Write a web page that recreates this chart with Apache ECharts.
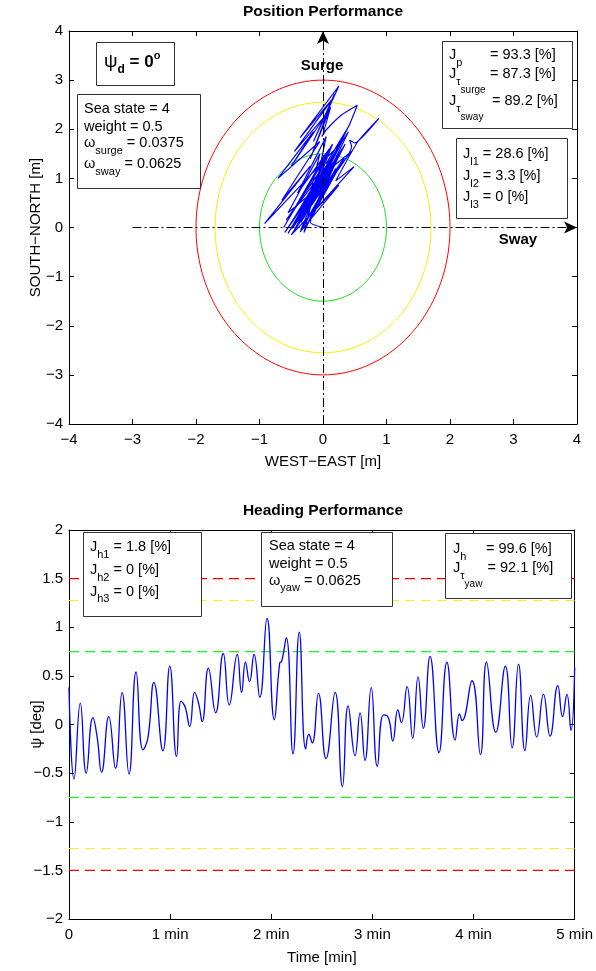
<!DOCTYPE html>
<html>
<head>
<meta charset="utf-8">
<script src="https://cdn.jsdelivr.net/npm/echarts@6/dist/echarts.min.js"></script>
<style>
html,body{margin:0;padding:0;background:#fff}
#chart{width:596px;height:971px}
</style>
</head>
<body>
<div id="chart"></div>
<script>
const FONT = "'Liberation Sans', Arial, Helvetica, sans-serif";

// Vessel position track, metres (east, north)
const trackEast = [0.00, -0.20, 0.20, -0.35, 0.10, -0.55, 0.22, -0.40, 0.05, -0.62, 0.15, -0.30, 0.30, -0.92, -0.20, -0.65, -0.05, -0.71, -0.15, -0.50, 0.05, -0.45, 0.15, -0.36, 0.25, -0.15, 0.18, -0.20, 0.12, 0.00, -0.02, 0.06, 0.30, 0.54, 0.40, 0.05, 0.40, -0.45, 0.30, -0.25, 0.20, -0.60, 0.00, -0.30, 0.45, 0.42, 0.50, 0.88, 0.55, 0.20, 0.49, -0.10, 0.35, -0.50, 0.25, -0.36, 0.15, -0.20, 0.25, -0.45, 0.05, -0.55, -0.05, -0.25, 0.10, -0.40, 0.05, -0.15, 0.20, -0.35, 0.12, -0.48, 0.08, -0.28, 0.18, -0.58, -0.02, -0.42, 0.00, -0.30, 0.28, -0.05, 0.35, -0.38, 0.10, -0.52, -0.08, -0.33, 0.14, 0.05, 0.45, 0.12, 0.40, -0.05, 0.32, 0.08, 0.38, -0.22, 0.05];
const trackNorth = [0.00, 0.10, 1.20, -0.05, 1.35, -0.12, 1.55, 0.15, 1.45, 0.00, 1.70, 0.20, 1.75, 0.08, 1.25, 0.55, 1.75, 1.00, 1.95, 1.25, 2.30, 1.55, 2.62, 1.83, 2.88, 1.75, 2.72, 1.40, 2.45, 1.90, 1.85, 2.00, 2.30, 2.49, 2.05, 1.30, 2.05, -0.05, 1.60, 0.05, 1.40, -0.10, 1.10, 0.30, 1.65, 1.78, 1.72, 2.22, 1.75, 0.95, 1.24, 0.40, 1.45, -0.15, 0.86, -0.09, 1.05, 0.15, 1.25, 0.05, 0.95, 0.30, 1.50, 0.45, 1.60, 0.70, 1.85, 0.60, 1.50, 0.10, 1.15, -0.02, 1.30, 0.35, 1.45, 0.15, 1.20, 0.45, 1.40, -0.10, 1.55, 0.70, 1.70, 0.20, 1.35, 0.05, 1.00, 0.25, 1.20, 0.90, 1.55, 1.20, 1.95, 1.05, 1.80, 1.25, 2.00, 0.40, 0.90];

// Position limit ellipses: semi-axes (east, north) in metres
const limitEast = [1.0, 1.7, 2.0];
const limitNorth = [1.5, 2.55, 3.0];
const limitColors = ['#11e011', '#f2f200', '#ff0000'];

// Heading history: time [s], heading error [deg]
const headingTime = [0, 3.0, 6.7, 10.2, 14.2, 16.7, 19.3, 23.6, 27.6, 31.5, 35.6, 39.8, 43.9, 46.8, 50.4, 55.7, 59.8, 63.8, 66.5, 68.9, 71.6, 74.6, 77.0, 79.0, 82.7, 87.0, 91.5, 95.1, 99.8, 102.4, 104.7, 107.1, 109.8, 113.2, 117.5, 121.8, 125.0, 126.2, 128.9, 132.9, 136.6, 140.4, 142.3, 144.3, 148.0, 152.5, 157.9, 162.2, 165.6, 169.7, 172.7, 175.6, 179.3, 182.9, 186.6, 189.5, 192.1, 195.1, 197.2, 200.6, 203.9, 207.1, 210.2, 214.2, 219.5, 224.2, 229.1, 231.7, 233.2, 239.1, 244.1, 247.7, 253.2, 258.9, 262.9, 266.7, 270.5, 273.9, 277.5, 281.5, 285.4, 290.0, 292.8, 295.4, 297.8, 300];
const headingPsi = [0.38, -0.56, 0.22, -0.50, 0.07, -0.13, -0.49, 0.08, -0.45, 0.33, -0.51, 0.54, -0.26, -0.14, 0.43, -0.27, 0.60, -0.33, 0.24, 0.18, -0.02, 0.33, 0.21, 0.03, 0.58, 0.12, 0.73, 0.20, 0.72, 0.33, 0.64, 0.44, 0.72, 0.28, 1.09, 0.05, 0.63, 0.65, 0.89, -0.30, 0.95, -0.25, -0.10, -0.19, 0.32, -0.35, 0.33, -0.64, 0.19, -0.32, 0.12, -0.37, 0.38, -0.43, 0.10, 0.07, -0.17, 0.15, 0.02, 0.39, -0.14, 0.49, -0.04, 0.70, -0.29, 0.64, -0.16, 0.11, 0.04, 0.45, -0.31, 0.64, -0.08, 0.60, -0.24, 0.62, -0.27, 0.30, -0.13, 0.31, -0.12, 0.40, 0.08, 0.31, -0.06, 0.59];

// Heading limit levels [deg]
const headingLimits = [0.75, 1.275, 1.5];
const headingLimitColors = ['#22ee22', '#f0f020', '#ff0000'];

// Axis ticks
const posTicks = [-4, -3, -2, -1, 0, 1, 2, 3, 4];
const timeTickLabels = ['0', '1 min', '2 min', '3 min', '4 min', '5 min'];
const timeRange = [0, 300];

const minus = v => String(v).replace('-', '\u2212');

// text width helper for composing sub/superscripts
const mctx = document.createElement('canvas').getContext('2d');
function tw(text, size, weight) {
  mctx.font = (weight || 'normal') + ' ' + size + 'px ' + FONT;
  return mctx.measureText(text).width;
}
const KIND = {
  n:  { size: 14.5, dy: 0 },
  s:  { size: 11, dy: 7.5 },
  ss: { size: 10, dy: 16.5 },
  G:  { size: 19, dy: 0 },
  B:  { size: 17, dy: 0, w: 'bold' },
  Bs: { size: 12, dy: 8, w: 'bold' },
  Bp: { size: 11, dy: -6, w: 'bold' }
};
function textLine(x, y, runs) {
  const out = [];
  let cx = x;
  runs.forEach(r => {
    const text = r[0], k = KIND[r[1] || 'n'];
    if (r[2] !== undefined) cx = r[2];
    out.push({
      type: 'text', x: cx, y: y + k.dy, z: 101,
      style: { text, fontSize: k.size, fontFamily: FONT, fontWeight: k.w || 'normal', fill: '#000', align: 'left', verticalAlign: 'middle' }
    });
    cx += tw(text, k.size, k.w);
  });
  return out;
}
function box(x, y, w, h) {
  return { type: 'rect', z: 100, shape: { x: x + 0.5, y: y + 0.5, width: w, height: h }, style: { fill: '#fff', stroke: '#333', lineWidth: 1 } };
}
function label(x, y, text, size, weight) {
  return { type: 'text', x, y, z: 101, style: { text, fontSize: size, fontWeight: weight || 'normal', fontFamily: FONT, fill: '#000', align: 'center', verticalAlign: 'middle' } };
}

const graphics = [].concat(
  label(323, 12, 'Position Performance', 15.5, 'bold'),
  label(323, 511, 'Heading Performance', 15.5, 'bold'),
  label(322, 66, 'Surge', 15, 'bold'),
  label(518, 240, 'Sway', 15, 'bold'),

  box(96, 42, 78, 43),
  textLine(104, 62, [['\u03c8', 'G'], ['d', 'Bs'], [' = 0', 'B'], ['o', 'Bp']]),

  box(77, 94, 123, 94),
  textLine(84, 109, [['Sea state = 4']]),
  textLine(84, 127, [['weight = 0.5']]),
  textLine(84, 143, [['\u03c9'], ['surge', 's'], [' = 0.0375']]),
  textLine(84, 164, [['\u03c9'], ['sway', 's'], [' = 0.0625']]),

  box(442, 41, 130, 87),
  textLine(449, 55, [['J'], ['p', 's'], ['= 93.3 [%]', 'n', 490]]),
  textLine(449, 74, [['J'], ['\u03c4', 's'], ['surge', 'ss'], ['= 87.3 [%]', 'n', 490]]),
  textLine(449, 101, [['J'], ['\u03c4', 's'], ['sway', 'ss'], ['= 89.2 [%]', 'n', 492]]),

  box(456, 138, 111, 80),
  textLine(463, 154, [['J'], ['l1', 's'], [' = 28.6 [%]']]),
  textLine(463, 176, [['J'], ['l2', 's'], [' = 3.3 [%]']]),
  textLine(463, 197, [['J'], ['l3', 's'], [' = 0 [%]']]),

  box(83, 532, 118, 84),
  textLine(90, 547, [['J'], ['h1', 's'], [' = 1.8 [%]']]),
  textLine(90, 570, [['J'], ['h2', 's'], [' = 0 [%]']]),
  textLine(90, 591.5, [['J'], ['h3', 's'], [' = 0 [%]']]),

  box(261, 532, 131, 74),
  textLine(269, 546, [['Sea state = 4']]),
  textLine(269, 564, [['weight = 0.5']]),
  textLine(269, 580.5, [['\u03c9'], ['yaw', 's'], [' = 0.0625']]),

  box(445, 533, 126, 65),
  textLine(453, 549, [['J'], ['h', 's'], ['= 99.6 [%]', 'n', 486]]),
  textLine(453, 568, [['J'], ['\u03c4', 's'], ['yaw', 'ss'], ['= 92.1 [%]', 'n', 487.5]])
);

const axLine = { show: true, onZero: false, lineStyle: { color: '#000', width: 1 } };
const axTick = { show: true, inside: true, length: 5, lineStyle: { color: '#000', width: 1 } };
const tickFont = { color: '#000', fontSize: 15, fontFamily: FONT };
const nameFont = { color: '#000', fontSize: 15, fontFamily: FONT };

const trackData = trackEast.map((e, i) => [e, trackNorth[i]]);
const headingData = headingTime.map((t, i) => [t, headingPsi[i]]);

// dashed heading limit lines (upper and lower)
const limitSeries = [];
headingLimits.forEach((v, i) => {
  [v, -v].forEach(y => limitSeries.push({
    type: 'line', xAxisIndex: 2, yAxisIndex: 2, z: 2, silent: true,
    color: headingLimitColors[i],
    data: timeRange.map(t => [t, y]), showSymbol: false, symbol: 'none',
    lineStyle: { color: headingLimitColors[i], opacity: 1, type: [10, 6], width: 1.2 },
    emphasis: { disabled: true }
  }));
});

const option = {
  animation: false,
  backgroundColor: '#fff',
  grid: [
    { left: 69, top: 31, width: 508, height: 393 },
    { left: 69, top: 530, width: 508, height: 389 }
  ],
  xAxis: [
    { gridIndex: 0, type: 'value', min: posTicks[0], max: posTicks[posTicks.length - 1], interval: 1, position: 'bottom',
      axisLine: axLine, axisTick: axTick, splitLine: { show: false },
      axisLabel: Object.assign({ margin: 8, formatter: minus }, tickFont),
      name: 'WEST\u2212EAST [m]', nameLocation: 'middle', nameGap: 30, nameMoveOverlap: false, nameTextStyle: nameFont },
    { gridIndex: 0, type: 'value', min: -4, max: 4, interval: 1, position: 'top',
      axisLine: axLine, axisTick: axTick, axisLabel: { show: false }, splitLine: { show: false } },
    { gridIndex: 1, type: 'value', min: timeRange[0], max: timeRange[1], interval: 60, position: 'bottom',
      axisLine: axLine, axisTick: axTick, splitLine: { show: false },
      axisLabel: Object.assign({ margin: 8, formatter: v => timeTickLabels[Math.round(v / 60)] }, tickFont),
      name: 'Time [min]', nameLocation: 'middle', nameGap: 31, nameMoveOverlap: false, nameTextStyle: nameFont },
    { gridIndex: 1, type: 'value', min: timeRange[0], max: timeRange[1], interval: 60, position: 'top',
      axisLine: axLine, axisTick: axTick, axisLabel: { show: false }, splitLine: { show: false } }
  ],
  yAxis: [
    { gridIndex: 0, type: 'value', min: -4, max: 4, interval: 1, position: 'left',
      axisLine: axLine, axisTick: axTick, splitLine: { show: false },
      axisLabel: Object.assign({ margin: 6, formatter: minus }, tickFont),
      name: 'SOUTH\u2212NORTH [m]', nameLocation: 'middle', nameGap: 26, nameMoveOverlap: false, nameTextStyle: nameFont },
    { gridIndex: 0, type: 'value', min: -4, max: 4, interval: 1, position: 'right',
      axisLine: axLine, axisTick: axTick, axisLabel: { show: false }, splitLine: { show: false } },
    { gridIndex: 1, type: 'value', min: -2, max: 2, interval: 0.5, position: 'left',
      axisLine: axLine, axisTick: axTick, splitLine: { show: false },
      axisLabel: Object.assign({ margin: 6, formatter: minus }, tickFont),
      name: '\u03c8 [deg]', nameLocation: 'middle', nameGap: 25, nameMoveOverlap: false, nameTextStyle: nameFont },
    { gridIndex: 1, type: 'value', min: -2, max: 2, interval: 0.5, position: 'right',
      axisLine: axLine, axisTick: axTick, axisLabel: { show: false }, splitLine: { show: false } }
  ],
  series: [
    {
      // limit ellipses drawn from their semi-axes
      type: 'custom', xAxisIndex: 0, yAxisIndex: 0, silent: true, z: 2,
      data: limitEast.map((a, i) => [a, limitNorth[i], i]),
      renderItem(params, api) {
        const a = api.value(0), b = api.value(1), i = api.value(2);
        const pts = [];
        for (let k = 0; k <= 180; k++) {
          const th = k / 180 * 2 * Math.PI;
          pts.push(api.coord([a * Math.cos(th), b * Math.sin(th)]));
        }
        return { type: 'polyline', shape: { points: pts }, style: { stroke: limitColors[i], fill: 'none', lineWidth: 1 } };
      }
    },
    {
      type: 'line', xAxisIndex: 0, yAxisIndex: 0, z: 3, silent: true,
      data: trackData, showSymbol: false, symbol: 'none',
      smooth: 0.15,
      lineStyle: { color: '#0000ff', width: 1.15 },
      markLine: {
        silent: true, symbol: ['none', 'arrow'], symbolSize: [9, 13], z: 5,
        label: { show: false },
        lineStyle: { color: '#000', type: [9, 3, 2, 3], width: 1 },
        data: [
          [{ coord: [-3, 0] }, { coord: [4, 0] }],
          [{ coord: [0, -4] }, { coord: [0, 4] }]
        ]
      }
    },
    {
      type: 'line', xAxisIndex: 2, yAxisIndex: 2, z: 3, silent: true,
      data: headingData, showSymbol: false, symbol: 'none',
      smooth: 0.5,
      lineStyle: { color: '#0000ff', width: 1.3 }
    }
  ].concat(limitSeries),
  graphic: { elements: graphics }
};

const chart = echarts.init(document.getElementById('chart'), null, { renderer: 'canvas' });
chart.setOption(option);
</script>
</body>
</html>
